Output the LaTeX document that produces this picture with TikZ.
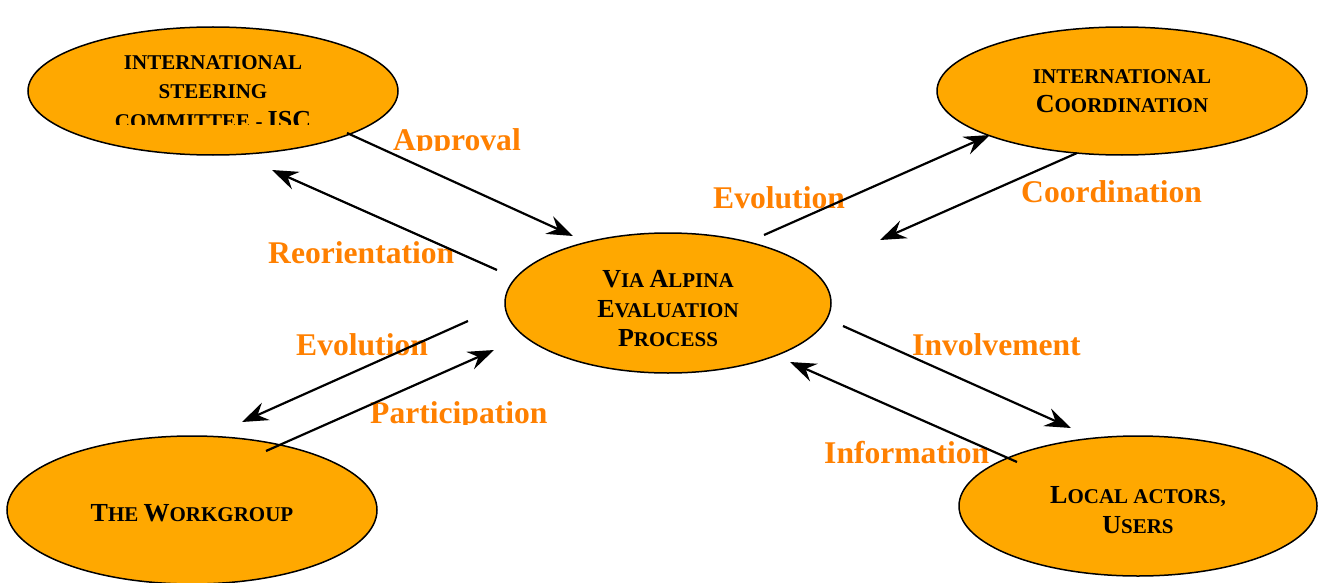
\documentclass[tikz,border=0pt]{standalone}
\usepackage{fontspec}
\setmainfont{Liberation Serif}
\usetikzlibrary{shapes.geometric,arrows.meta}
\definecolor{bubble}{RGB}{255,168,0}
\definecolor{flowtext}{RGB}{255,128,0}
% hand-made small capitals: initial letters large, the rest small
\newcommand{\Lg}[1]{{\fontsize{26}{30}\selectfont #1}}
\tikzset{
  bubble/.style={ellipse, draw=black, line width=1.5pt, fill=bubble, inner sep=0pt},
  bubbletext/.style={align=center, inner sep=0pt, font=\bfseries\fontsize{21}{29.5}\selectfont},
  flowlabel/.style={anchor=base west, inner sep=0pt, text=flowtext, font=\bfseries\fontsize{31.6}{34}\selectfont},
  flow/.style={line width=2.2pt, -{Stealth[length=26pt,width=19pt,inset=9pt]}}
}
\begin{document}
\begin{tikzpicture}[x=1pt,y=-1pt]
\useasboundingbox (0,0) rectangle (1319,583);

% the five parties
\node[bubble, minimum width=370pt, minimum height=128pt] (isc) at (213,91) {};
\node[bubble, minimum width=370pt, minimum height=128pt] (coord) at (1122,91) {};
\node[bubble, minimum width=326pt, minimum height=140pt] (eval) at (668,303) {};
\node[bubble, minimum width=370pt, minimum height=148pt] (work) at (192,510) {};
\node[bubble, minimum width=358pt, minimum height=140pt] (local) at (1138,506) {};

% their names
\begin{scope}
  \clip (20,20) rectangle (410,125);
  \node[bubbletext] (iscText) at ([yshift=-1pt]isc.center) {INTERNATIONAL\\STEERING\\COMMITTEE - \Lg{ISC}};
\end{scope}
\node[bubbletext] (coordText) at ([yshift=0pt]coord.center) {INTERNATIONAL\\\Lg{C}OORDINATION};
\node[bubbletext] (evalText) at ([yshift=-6pt]eval.center) {\Lg{V}IA \Lg{A}LPINA\\\Lg{E}VALUATION\\\Lg{P}ROCESS};
\node[bubbletext] (workText) at ([yshift=-3pt]work.center) {\Lg{T}HE \Lg{W}ORKGROUP};
\node[bubbletext] (localText) at ([yshift=-4pt]local.center) {\Lg{L}OCAL ACTORS,\\\Lg{U}SERS};

% labels of the exchanges
\begin{scope}
  \clip (380,105) rectangle (540,150.5);
  \node[flowlabel] (lApproval) at (393,150) {Approval};
\end{scope}
\node[flowlabel] (lReorient) at (268,263) {Reorientation};
\node[flowlabel] (lEvolTop) at (713,208) {Evolution};
\node[flowlabel] (lCoord) at (1021,202) {Coordination};
\node[flowlabel] (lEvolLeft) at (296,355) {Evolution};
\begin{scope}
  \clip (360,390) rectangle (560,424);
  \node[flowlabel] (lPartic) at (370,423) {Participation};
\end{scope}
\node[flowlabel] (lInvolve) at (912,355) {Involvement};
\node[flowlabel] (lInform) at (824,463) {Information};

% end points of the exchanges
\coordinate (apA) at (347,133);  \coordinate (apB) at (573,236);
\coordinate (reA) at (497,270);  \coordinate (reB) at (272,170);
\coordinate (evA) at (764,235);  \coordinate (evB) at (990,135);
\coordinate (coA) at (1077,153); \coordinate (coB) at (880,240);
\coordinate (elA) at (468,321);  \coordinate (elB) at (242,422);
\coordinate (paA) at (266,451);  \coordinate (paB) at (494,350);
\coordinate (inA) at (843,326);  \coordinate (inB) at (1071,428);
\coordinate (ifA) at (1017,462); \coordinate (ifB) at (790,362);

\draw[flow] (apA) -- (apB);
\draw[flow] (reA) -- (reB);
\draw[flow] (evA) -- (evB);
\draw[flow] (coA) -- (coB);
\draw[flow] (elA) -- (elB);
\draw[flow] (paA) -- (paB);
\draw[flow] (inA) -- (inB);
\draw[flow] (ifA) -- (ifB);
\end{tikzpicture}
\end{document}
